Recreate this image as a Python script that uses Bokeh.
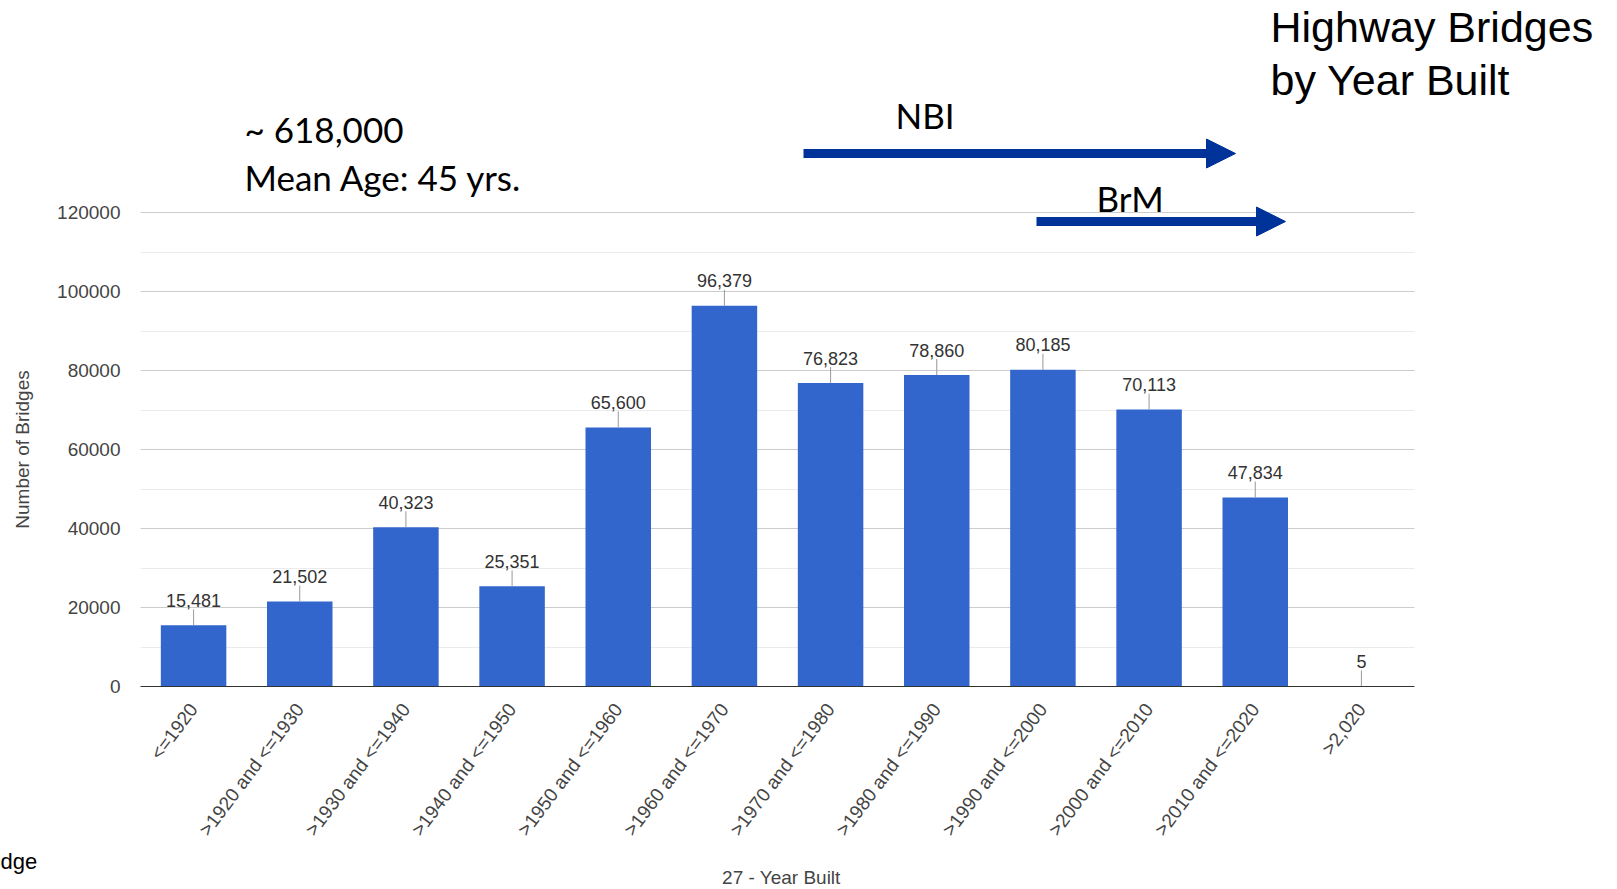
import math

from bokeh.plotting import figure
from bokeh.layouts import row, column
from bokeh.models import (ColumnDataSource, Range1d, FixedTicker, Grid,
                          BasicTickFormatter, Label, Arrow, NormalHead)
from bokeh.core.properties import value
from bokeh.embed import file_html
from bokeh.resources import INLINE

# --- data -------------------------------------------------------------------
year_bins = ["<=1920", ">1920 and <=1930", ">1930 and <=1940", ">1940 and <=1950",
             ">1950 and <=1960", ">1960 and <=1970", ">1970 and <=1980",
             ">1980 and <=1990", ">1990 and <=2000", ">2000 and <=2010",
             ">2010 and <=2020", ">2,020"]
bridge_counts = [15481, 21502, 40323, 25351, 65600, 96379, 76823, 78860,
                 80185, 70113, 47834, 5]
y_major_ticks = [0, 20000, 40000, 60000, 80000, 100000, 120000]
y_minor_ticks = [10000, 30000, 50000, 70000, 90000, 110000]

# --- page geometry (page pixels) ---------------------------------------------
# The page is a left strip (y title), the chart, and a bottom strip (x title).
# The chart frame spans everything above the x axis so that the notes, arrows
# and heading sit in data space next to the bars.
W, H = 1617, 889
STRIP_W = 50                      # left strip width
CHART_H = 851                     # chart height; bottom strip fills the rest
LEFT, BOTTOM = 140, 686           # frame left edge / chart baseline
AXIS_RIGHT, GRID_TOP = 1414, 212  # end of baseline / 120000 gridline
N = len(year_bins)
Y_MAX = y_major_ticks[-1]
CAT_W = (AXIS_RIGHT - LEFT) / N
PX_PER_UNIT = (BOTTOM - GRID_TOP) / Y_MAX
STEM_PX = 16


def xs(px):
    """page x pixel -> chart data x"""
    return (px - LEFT) / CAT_W


def ys(py):
    """page y pixel -> chart data y"""
    return (BOTTOM - py) / PX_PER_UNIT


BAR_BLUE = "#3366cc"
ARROW_BLUE = "#003399"
AXIS_GREY = "#444444"
CHART_FONT = "Liberation Sans"
NOTE_FONT = "Lato"


def blank(width, height, x_range, y_range):
    f = figure(width=width, height=height, x_range=x_range, y_range=y_range,
               x_axis_type=None, y_axis_type=None, min_border=0,
               output_backend="svg", toolbar_location=None)
    f.outline_line_color = None
    f.background_fill_color = "white"
    f.border_fill_color = "white"
    return f


# ---------------------------------------------------------------- chart ------
bin_pos = [i + 0.5 for i in range(N)]
src = ColumnDataSource(dict(
    pos=bin_pos,
    count=bridge_counts,
    stem_top=[c + STEM_PX / PX_PER_UNIT for c in bridge_counts],
    label=[f"{c:,}" for c in bridge_counts],
))

p = figure(width=W - STRIP_W, height=CHART_H,
           x_range=Range1d(0, xs(W)), y_range=Range1d(0, ys(0)),
           output_backend="svg", toolbar_location=None,
           min_border_left=LEFT - STRIP_W, min_border_right=0,
           min_border_top=0, min_border_bottom=CHART_H - BOTTOM)
p.outline_line_color = None
p.background_fill_color = "white"
p.border_fill_color = "white"

# grid
p.xgrid.grid_line_color = None
p.yaxis.ticker = FixedTicker(ticks=y_major_ticks, minor_ticks=y_minor_ticks)
p.ygrid.grid_line_color = "#cccccc"
p.ygrid.minor_grid_line_color = "#ebebeb"
if "cross_bounds" in Grid.properties():
    p.ygrid.cross_bounds = (0, N)

# bars with value stems and labels
p.vbar(x="pos", top="count", width=0.617, source=src,
       fill_color=BAR_BLUE, line_color=None)
p.segment(x0="pos", y0="count", x1="pos", y1="stem_top", source=src,
          line_color="#999999", line_width=1)
p.text(x="pos", y="count", text="label", source=src,
       y_offset=-(STEM_PX + 9), text_align="center", text_baseline="middle",
       text_font=value(CHART_FONT), text_font_size=value("18px"),
       text_color="#333333")

# x axis
xa = p.xaxis[0]
xa.ticker = FixedTicker(ticks=bin_pos)
xa.major_label_overrides = dict(zip(bin_pos, year_bins))
xa.bounds = (0, N)
xa.axis_line_color = "#333333"
xa.major_tick_line_color = None
xa.minor_tick_line_color = None
xa.major_tick_out = 0
xa.minor_tick_out = 0
xa.major_label_orientation = math.radians(53)
xa.major_label_standoff = 19
xa.major_label_text_font = CHART_FONT
xa.major_label_text_font_size = "19px"
xa.major_label_text_color = AXIS_GREY

# y axis
ya = p.yaxis[0]
ya.axis_line_color = None
ya.major_tick_line_color = None
ya.minor_tick_line_color = None
ya.major_tick_out = 0
ya.minor_tick_out = 0
ya.formatter = BasicTickFormatter(use_scientific=False)
ya.major_label_standoff = 20
ya.major_label_text_font = CHART_FONT
ya.major_label_text_font_size = "19px"
ya.major_label_text_color = AXIS_GREY


def note(fig, x, y, text, size, font=NOTE_FONT, align="left",
         color="black", angle=0.0):
    fig.add_layout(Label(x=x, y=y, text=text, text_font=font,
                         text_font_size=size, text_color=color,
                         text_align=align, text_baseline="middle",
                         angle=angle))


# summary notes (positions are text centre lines in page pixels)
note(p, xs(244), ys(128), "~ 618,000", "35px")
note(p, xs(244), ys(176), "Mean Age: 45 yrs.", "35px")

# heading
note(p, xs(1270), ys(26), "Highway Bridges", "43px", CHART_FONT)
note(p, xs(1270), ys(79), "by Year Built", "43px", CHART_FONT)

# data-source coverage arrows
note(p, xs(895), ys(114), "NBI", "35px")
note(p, xs(1096), ys(197), "BrM", "35px")
for x0, x1, y in [(803, 1235, 153), (1036, 1285, 221)]:
    p.add_layout(Arrow(end=NormalHead(size=29, fill_color=ARROW_BLUE,
                                      line_color=ARROW_BLUE, line_width=1),
                       x_start=xs(x0), y_start=ys(y), x_end=xs(x1), y_end=ys(y),
                       line_color=ARROW_BLUE, line_width=9))

# ----------------------------------------------------------- left strip -----
left = blank(STRIP_W, H, Range1d(0, STRIP_W), Range1d(H, 0))
note(left, 21.5, 449, "Number of Bridges", "19px", CHART_FONT,
     align="center", color=AXIS_GREY, angle=math.pi / 2)
note(left, 0, 861, "dge", "22px", CHART_FONT)

# --------------------------------------------------------- bottom strip -----
bottom = blank(W - STRIP_W, H - CHART_H, Range1d(STRIP_W, W), Range1d(H, CHART_H))
note(bottom, 667, 877, "27 - Year Built", "19px", CHART_FONT,
     align="left", color=AXIS_GREY)

page = row(left, column(p, bottom))
open("out.html", "w").write(file_html(page, INLINE))
